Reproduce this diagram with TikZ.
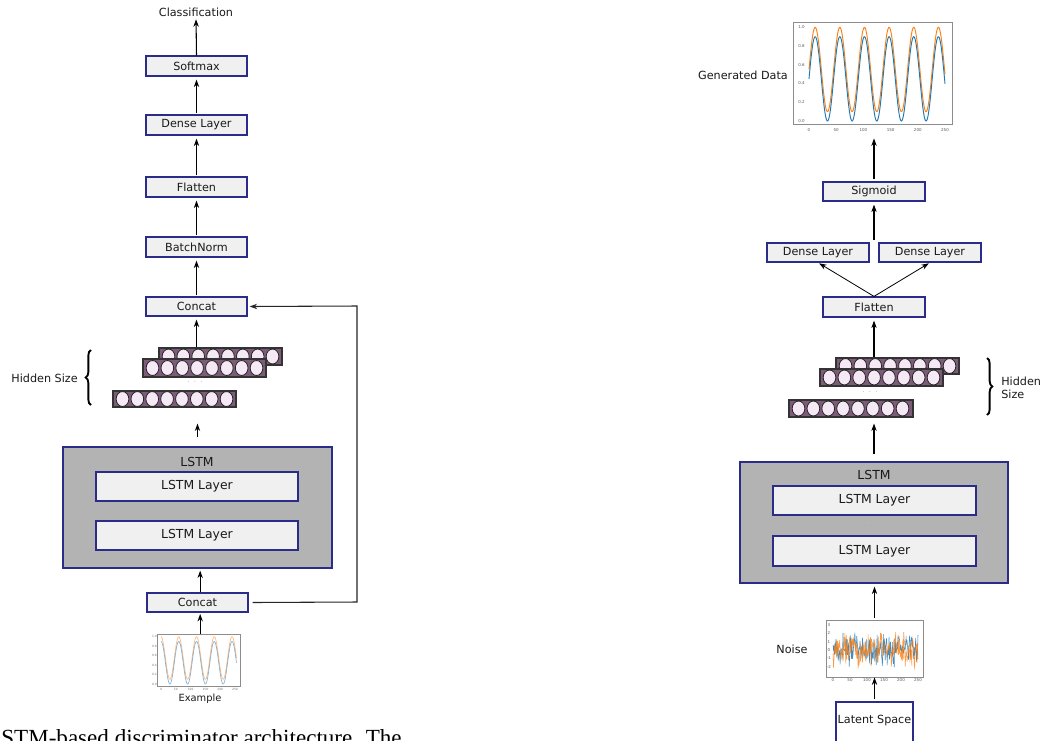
\documentclass[tikz,border=0pt]{standalone}
\usepackage{fontspec}
\setmainfont{DejaVu Sans}
\newfontfamily\capfont{Liberation Serif}
\usetikzlibrary{arrows.meta,fit,shapes.geometric,decorations.pathreplacing}

\definecolor{boxfill}{HTML}{F0F0F0}
\definecolor{boxline}{HTML}{2B2B8A}
\definecolor{lstmfill}{HTML}{B3B3B3}
\definecolor{cellfill}{HTML}{7D5C7A}
\definecolor{unitfill}{HTML}{F6E9F6}
\definecolor{mplblue}{HTML}{1F77B4}
\definecolor{mplorange}{HTML}{FF7F0E}
\definecolor{txt}{HTML}{1A1A1A}

\tikzset{
  layerbox/.style={draw=boxline, fill=boxfill, line width=0.9pt, inner sep=0pt,
    font=\fontsize{8.4}{10}\selectfont, text=txt},
  lstmbox/.style={draw=boxline, fill=lstmfill, line width=0.9pt, inner sep=0pt},
  lstmlayer/.style={layerbox, font=\fontsize{9.3}{11}\selectfont},
  latentbox/.style={layerbox, fill=white},
  cellrow/.style={draw=black!80, fill=cellfill, line width=0.8pt, inner sep=0pt},
  unit/.style={ellipse, draw=black!85, fill=unitfill, line width=0.6pt,
    minimum width=9.5pt, minimum height=11.2pt, inner sep=0pt},
  arr/.style={-{Stealth[length=5.6pt,width=4pt]}, line width=0.8pt, black},
  lbl/.style={font=\fontsize{8.4}{10}\selectfont, text=txt, inner sep=0pt},
  tick/.style={font=\fontsize{3}{3}\selectfont, text=black!65, inner sep=0pt},
  smalltick/.style={font=\fontsize{2.2}{2.2}\selectfont, text=black!55, inner sep=0pt},
  plotframe/.style={draw=black!45, line width=0.6pt, inner sep=0pt},
  ellipsis/.style={font=\fontsize{5}{5}\selectfont, text=black!35, inner sep=0pt},
  hbrace/.style={decorate, decoration={brace, amplitude=4pt}, line width=1.4pt},
}

% a labelled box from its corners: style, name, x1, y1, x2, y2, text
\newcommand\layerat[7]{%
  \node[#1, minimum width={(#5-#3)*0.75pt}, minimum height={(#6-#4)*0.75pt}]
    (#2) at ({(#3+#5)/2},{(#4+#6)/2}) {#7};%
}
% one row of hidden units: name, x1, y1, x2, y2
\newcommand\hiddenrow[5]{%
  \node[cellrow, fit={(#2,#3)(#4,#5)}] (#1) {};
  \foreach \k in {0,...,7}
    \node[unit] (#1u\k) at ({#2+9.5+14.86*\k},{(#3+#5)/2}) {};
}

\begin{document}
\begin{tikzpicture}[x=0.75pt, y=-0.75pt]
\useasboundingbox (0,0) rectangle (1042,740);
\fill[white] (0,0) rectangle (1042,740);

% ---------------- discriminator ----------------
\node[lbl] (cls) at (196,12) {Classification};
\layerat{layerbox}{softmax}{146}{56}{247}{76}{Softmax}
\layerat{layerbox}{denseL}{146}{115}{247}{135}{Dense Layer}
\layerat{layerbox}{flattenL}{146}{177}{247}{197}{Flatten}
\layerat{layerbox}{batchL}{146}{237}{247}{257}{BatchNorm}
\layerat{layerbox}{concatT}{146}{297}{247}{316}{Concat}

\hiddenrow{lh1}{159}{348}{282}{365}
\hiddenrow{lh2}{143}{359}{266}{377}
\hiddenrow{lh3}{113}{391}{236}{407}
\node[ellipsis] (ldots) at (195,382) {.\ \ .\ \ .};
\draw[hbrace] (91,405) -- (91,350);
\node[lbl, anchor=east] (lhid) at (78,378) {Hidden Size};

\node[lstmbox, fit={(63,447)(332,568)}] (lstmL) {};
\node[lbl, font=\fontsize{9.3}{11}\selectfont] (lstmLt) at (197,462) {LSTM};
\layerat{lstmlayer}{lstmL1}{96}{472}{298}{501}{LSTM Layer}
\layerat{lstmlayer}{lstmL2}{96}{521}{298}{550}{LSTM Layer}
\node[ellipsis] (lstmLd) at (195,511) {.\ \ .\ \ .};

\layerat{layerbox}{concatB}{147}{593}{248}{612}{Concat}

% example series
\node[plotframe, fit={(157,634)(240,686)}] (explot) {};
\draw[mplorange, opacity=0.55, line width=0.5pt] plot[domain=0:255, samples=200]
  ({161+0.296*\x},{684-47.3*(0.55+0.45*cos(6*\x))});
\draw[mplblue, opacity=0.55, line width=0.5pt] plot[domain=0:255, samples=200]
  ({161+0.296*\x},{684-47.3*(0.45+0.45*cos(6*\x))});
\foreach \v/\t [count=\i] in {0/0.0,0.2/0.2,0.4/0.4,0.6/0.6,0.8/0.8,1/1.0}
  \node[smalltick] (exy\i) at (154.5,{684-47.3*\v}) {\t};
\foreach \v [count=\i] in {0,50,100,150,200,250}
  \node[smalltick] (exx\i) at ({161+0.296*\v},689.5) {\v};
\node[lbl, font=\fontsize{7.4}{9}\selectfont] (exlbl) at (200,699) {Example};

% discriminator connectors
\draw[arr, shorten >=2pt] (softmax.north) -- (cls.south);
\draw[arr, shorten >=2.25pt, shorten <=0.75pt] (denseL.north) -- (softmax.south);
\draw[arr, shorten >=2.25pt, shorten <=0.75pt] (flattenL.north) -- (denseL.south);
\draw[arr, shorten >=2.25pt, shorten <=0.75pt] (batchL.north) -- (flattenL.south);
\draw[arr, shorten >=2.25pt, shorten <=0.75pt] (concatT.north) -- (batchL.south);
\draw[arr, shorten >=2.25pt] (lh1.north -| concatT) -- (concatT.south);
\draw[arr, shorten <=6.75pt, shorten >=12pt] (lstmL.north) -- (lh3.south -| lstmL);
\draw[arr, shorten >=1.5pt] ([xshift=2pt]concatB.north) -- ([xshift=2pt]concatB.north |- lstmL.south);
\draw[arr, shorten >=1pt] ([xshift=2pt]concatB.north |- explot.north) -- ([xshift=2pt]concatB.south);
\coordinate (skipB) at (357,602);
\coordinate (skipT) at (357,306);
\draw[arr, black!85] ([xshift=3pt]concatB.east) -- (skipB) -- (skipT) -- ([xshift=1.5pt]concatT.east);

% ---------------- generator ----------------
\node[plotframe, fit={(793,22)(952,124)}] (genplot) {};
\draw[mplorange, line width=0.7pt] plot[domain=0:250, samples=300]
  ({809+0.544*\x},{121-93.7*(0.55+0.45*sin(7.947*\x))});
\draw[mplblue, line width=0.7pt] plot[domain=0:250, samples=300]
  ({809+0.544*\x},{121-93.7*(0.45+0.45*sin(7.947*\x))});
\foreach \v/\t [count=\i] in {0/0.0,0.2/0.2,0.4/0.4,0.6/0.6,0.8/0.8,1/1.0}
  \node[tick] (gy\i) at (801.5,{121-93.7*\v}) {\t};
\foreach \v [count=\i] in {0,50,100,150,200,250}
  \node[tick] (gx\i) at ({809+0.544*\v},130) {\v};
\node[lbl] (genlbl) at (743,75) {Generated Data};

\layerat{layerbox}{sigmoid}{823}{182}{925}{201}{Sigmoid}
\layerat{layerbox}{denseR1}{767}{243}{869}{262}{Dense Layer}
\layerat{layerbox}{denseR2}{879}{243}{981}{262}{Dense Layer}
\layerat{layerbox}{flattenR}{823}{297}{925}{317}{Flatten}

\hiddenrow{rh1}{836}{358}{959}{374}
\hiddenrow{rh2}{820}{369}{943}{386}
\hiddenrow{rh3}{789}{400}{913}{417}
\node[ellipsis] (rdots) at (870,392) {.\ \ .\ \ .};
\draw[hbrace] (987,358) -- (987,415);
\node[lbl, anchor=west, align=left, font=\fontsize{8.4}{9.75}\selectfont] (rhid) at (1001,387.5) {Hidden\\Size};

\node[lstmbox, fit={(740,462)(1008,583)}] (lstmR) {};
\node[lbl, font=\fontsize{9.3}{11}\selectfont] (lstmRt) at (874,475) {LSTM};
\layerat{lstmlayer}{lstmR1}{773}{486}{976}{515}{LSTM Layer}
\layerat{lstmlayer}{lstmR2}{773}{536}{976}{566}{LSTM Layer}
\node[ellipsis] (lstmRd) at (872,526) {.\ \ .\ \ .};

% noise series
\node[plotframe, fit={(826,620)(923,677)}] (noiseplot) {};
\pgfmathsetseed{12}
\draw[mplblue, opacity=0.85, line width=0.4pt] plot[domain=0:250, samples=180]
  ({833+0.34*\x},{650-8.4*1.2*(rand+rand)});
\draw[mplorange, opacity=0.8, line width=0.4pt] plot[domain=0:250, samples=180]
  ({833+0.34*\x},{650-8.4*1.2*(rand+rand)});
\foreach \v [count=\i] in {3,2,1,0,-1,-2}
  \node[tick] (ny\i) at (829,{650-8.4*\v}) {\v};
\foreach \v [count=\i] in {0,50,100,150,200,250}
  \node[tick] (nx\i) at ({833+0.34*\v},680.5) {\v};
\node[lbl] (noiselbl) at (792,649) {Noise};

\node[latentbox, fit={(836,702)(913,748)}] (latent) {};
\node[lbl] (latentlbl) at (874.5,720) {Latent Space};

% generator connectors
\draw[arr, shorten <=1.5pt, shorten >=10.5pt] (sigmoid.north) -- (sigmoid.north |- genplot.south);
\coordinate (djoin) at (874,240);
\draw[arr, shorten >=2.25pt] (djoin) -- (sigmoid.south);
\draw[arr, line width=0.6pt, shorten >=1pt] (flattenR.north) -- (denseR1.south);
\draw[arr, line width=0.6pt, shorten >=1pt] (flattenR.north) -- (denseR2.south);
\draw[arr, shorten >=2.25pt] (rh1.north -| flattenR) -- (flattenR.south);
\draw[arr, shorten <=5.25pt, shorten >=4.5pt] (lstmR.north) -- (rh3.south -| lstmR);
\draw[arr, shorten <=1.5pt, shorten >=2.25pt] (noiseplot.north) -- (noiseplot.north |- lstmR.south);
\draw[arr, shorten <=1.5pt] (latent.north) -- (latent.north |- noiseplot.south);

% caption line below the figure
\node[font=\capfont\fontsize{17.3}{20}\selectfont, anchor=base west, inner sep=0pt, text=black]
  (caption) at (-13,745) {LSTM-based discriminator architecture. The};
\end{tikzpicture}
\end{document}
